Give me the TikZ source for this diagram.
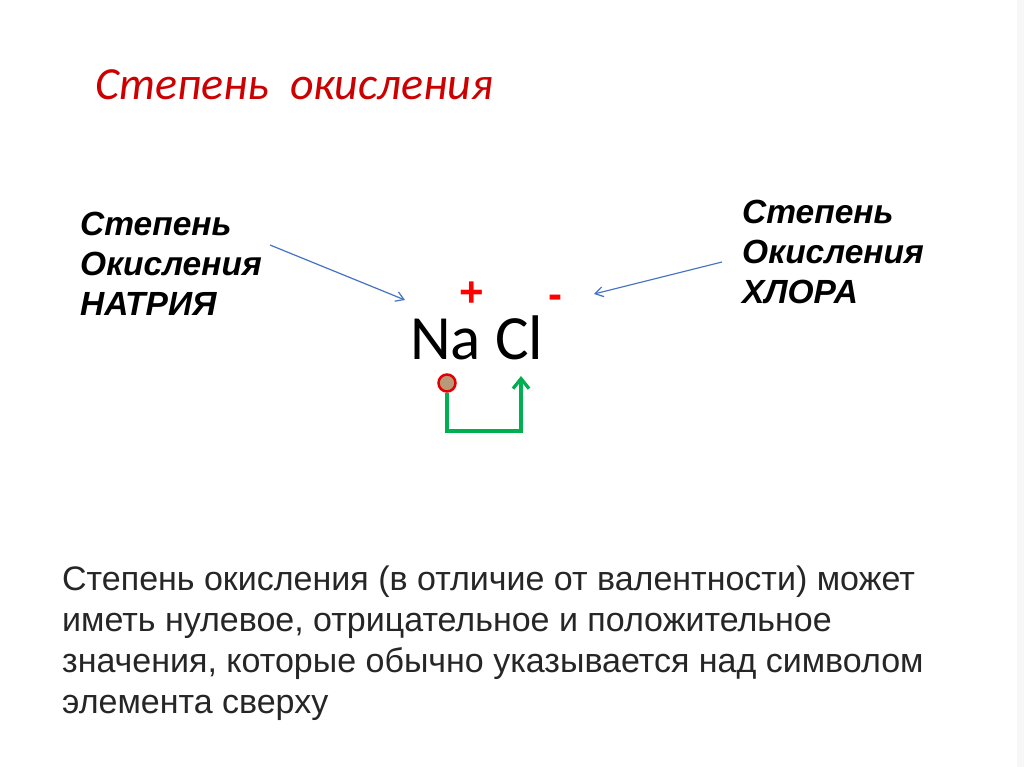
\documentclass[tikz,border=0pt]{standalone}
\usepackage{fontspec}
\setmainfont{Liberation Sans}
\newfontfamily\carlitofont{Carlito}
\usetikzlibrary{arrows.meta}
\definecolor{pgreen}{HTML}{00B050}
\definecolor{pblue}{HTML}{4472C4}
\begin{document}
\begin{tikzpicture}[x=1pt,y=-1pt,
  lbl/.style={anchor=north west,inner sep=0pt,font=\fontsize{33.5}{40}\selectfont\bfseries\itshape,align=left},
  body/.style={anchor=north west,inner sep=0pt,font=\fontsize{34}{41}\selectfont,align=left,text=black!85},
  pt/.style={draw=pblue,line width=1.2pt,-{Straight Barb[length=8pt,width=10pt]}},
  sg/.style={text=red,font=\fontsize{42}{42}\selectfont\bfseries,inner sep=0pt}]
\useasboundingbox (0,0) rectangle (1024,767);
\fill[white] (0,0) rectangle (1024,767);
\fill[black!3] (1017,0) rectangle (1024,767);
\node[anchor=base west,inner sep=0pt,text=red!80!black,font=\carlitofont\fontsize{46}{46}\selectfont\itshape] (title) at (95,100) {Степень\ \ окисления};
\node[lbl] (left) at (80,212) {Степень\\Окисления\\НАТРИЯ};
\node[lbl] (right) at (742,200) {Степень\\Окисления\\ХЛОРА};
\node[anchor=base west,inner sep=0pt,font=\carlitofont\fontsize{63}{63}\selectfont] (na) at (410,359) {Na Cl};
\node[sg] (plus) at (472,294) {+};
\node[sg] (minus) at (555,302) {-};
\coordinate (la) at (270,245); \coordinate (lb) at (405,300);
\coordinate (ra) at (722,262); \coordinate (rb) at (594,294);
\draw[pt] (la) -- (lb);
\draw[pt] (ra) -- (rb);
\node[circle,draw=red!90!black,line width=2.5pt,fill=brown!60!gray!80,minimum size=17pt,inner sep=0pt] (dot) at (447,383) {};
\coordinate (tip) at (521,376);
\draw[pgreen,line width=3.3pt,-{Straight Barb[length=10pt,width=16pt]}] (dot.south) |- (521,431) -- (tip);
\node[body] (txt) at (62,566) {Степень окисления (в отличие от валентности) может\\иметь нулевое, отрицательное и положительное\\значения, которые обычно указывается над символом\\элемента сверху};
\end{tikzpicture}
\end{document}
